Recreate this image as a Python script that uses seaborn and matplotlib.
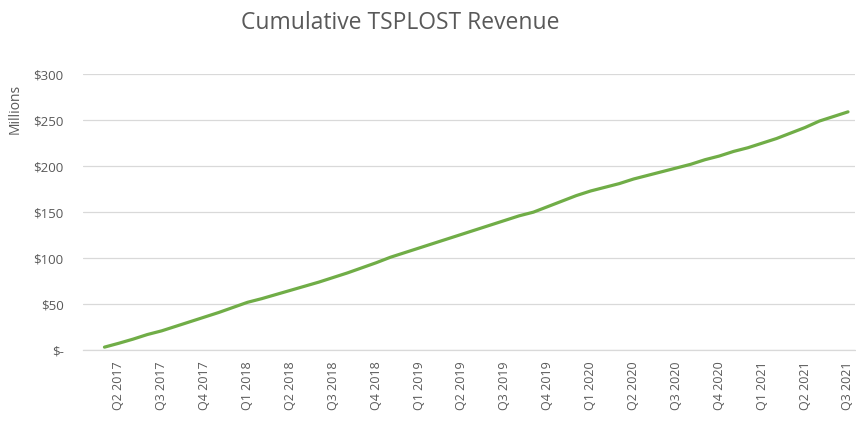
import matplotlib
matplotlib.use("Agg")
import matplotlib.pyplot as plt
import seaborn as sns
import pandas as pd
import numpy as np

# Monthly categories Mar 2017 .. Jul 2021
months = pd.date_range("2017-03-01", "2021-07-01", freq="MS")
revenue_millions = [
    3.3, 7.5, 12, 17, 21, 26, 31, 36, 41, 46.5,
    52, 56, 60.5, 65, 69.5, 74, 79, 84, 89.5, 95,
    101, 106, 111, 116, 121, 126, 131, 136, 141, 146,
    150, 156, 162, 168, 173, 177, 181, 186, 190, 194,
    198, 202, 207, 211, 216, 220, 225, 230, 236, 242,
    249, 254, 259,
]
quarter_labels = ["Q2 2017", "Q3 2017", "Q4 2017", "Q1 2018", "Q2 2018", "Q3 2018",
                  "Q4 2018", "Q1 2019", "Q2 2019", "Q3 2019", "Q4 2019", "Q1 2020",
                  "Q2 2020", "Q3 2020", "Q4 2020", "Q1 2021", "Q2 2021", "Q3 2021"]
y_ticks = [0, 50, 100, 150, 200, 250, 300]
y_tick_labels = ["$-", "$50", "$100", "$150", "$200", "$250", "$300"]

sns.set_style("white")
plt.rcParams["font.family"] = ["Open Sans", "DejaVu Sans"]

df = pd.DataFrame({"idx": np.arange(len(months)), "value": revenue_millions,
                   "month": months})

fig = plt.figure(figsize=(8.56, 4.26), dpi=100)
ax = fig.add_axes([0.097, 0.178, 0.902, 0.648])

sns.lineplot(data=df, x="idx", y="value", ax=ax, color="#70AD47", linewidth=2.3)

ax.set_xlim(-1.5, len(months) - 0.5)
ax.set_ylim(0, 300)

grey = "#595959"
ax.set_yticks(y_ticks)
ax.set_yticklabels(y_tick_labels, color=grey, fontsize=9.5)
ax.yaxis.grid(True, color="#D9D9D9", linewidth=0.9)
ax.xaxis.grid(False)

# quarter labels at first month of each quarter
label_idx = [i for i, m in enumerate(months) if m.month in (1, 4, 7, 10)]
ax.set_xticks(label_idx)
ax.set_xticklabels(quarter_labels, rotation=90, color=grey, fontsize=9)
ax.set_xticks(np.arange(-1.5, len(months), 1.0), minor=True)
ax.tick_params(axis="x", which="major", length=0, pad=8)
ax.tick_params(axis="x", which="minor", length=5, color="#D9D9D9", width=0.8, direction="out")
ax.tick_params(axis="y", length=0, pad=14)

for s in ["top", "right", "left"]:
    ax.spines[s].set_visible(False)
ax.spines["bottom"].set_color("#D9D9D9")
ax.spines["bottom"].set_linewidth(0.9)

ax.set_xlabel("")
ax.set_ylabel("")
fig.text(0.018, 0.745, "Millions", rotation=90, ha="center", va="center",
         color=grey, fontsize=10)
fig.text(0.467, 0.946, "Cumulative TSPLOST Revenue", ha="center", va="center",
         color=grey, fontsize=16.5)

fig.savefig("out.png", dpi=100)
